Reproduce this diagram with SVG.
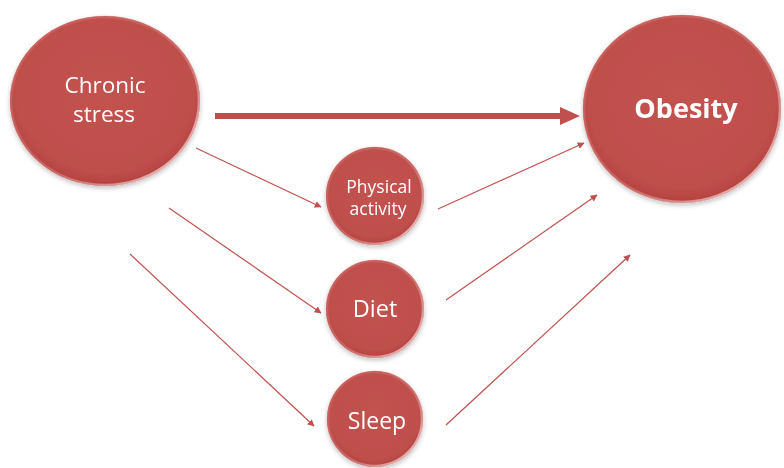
<svg xmlns="http://www.w3.org/2000/svg" width="784" height="468" viewBox="0 0 784 468">
  <style>
    .node { fill: url(#bubble); }
    .rim { fill: none; stroke: url(#rimGrad); stroke-width: 2.5; }
    .label { fill: #ffffff; font-family: "Open Sans", "Noto Sans", "DejaVu Sans", sans-serif; text-anchor: middle; }
    .thin { stroke: #c0504d; stroke-width: 1.2; fill: none; marker-end: url(#headSmall); }
    .thick { stroke: #c0504d; stroke-width: 6; fill: none; }
  </style>
  <defs>
    <radialGradient id="bubble" cx="50%" cy="45%" r="55%">
      <stop offset="0" stop-color="#c2524f"/>
      <stop offset="0.85" stop-color="#bf4f4c"/>
      <stop offset="1" stop-color="#b3413e"/>
    </radialGradient>
    <linearGradient id="rimGrad" x1="0" y1="0" x2="1" y2="1">
      <stop offset="0" stop-color="#c9605d" stop-opacity="0.6"/>
      <stop offset="0.55" stop-color="#d98583" stop-opacity="0.5"/>
      <stop offset="1" stop-color="#f7dede" stop-opacity="1"/>
    </linearGradient>
    <filter id="shadow" x="-10%" y="-10%" width="120%" height="125%">
      <feGaussianBlur in="SourceAlpha" stdDeviation="2.5"/>
      <feOffset dx="0" dy="2" result="b"/>
      <feComponentTransfer><feFuncA type="linear" slope="0.25"/></feComponentTransfer>
      <feMerge><feMergeNode/><feMergeNode in="SourceGraphic"/></feMerge>
    </filter>
    <marker id="headSmall" viewBox="0 0 10 10" refX="9" refY="5" markerWidth="7" markerHeight="7" markerUnits="userSpaceOnUse" orient="auto">
      <path d="M0,0 L10,5 L0,10 z" fill="#c0504d"/>
    </marker>
  </defs>

  <!-- connectors -->
  <g id="connectors">
    <line class="thick" x1="215" y1="116" x2="562" y2="116"/>
    <path d="M560,107 L580,116 L560,125 z" fill="#c0504d"/>
    <line class="thin" x1="196" y1="148" x2="321" y2="207"/>
    <line class="thin" x1="169" y1="208" x2="321" y2="313"/>
    <line class="thin" x1="130" y1="254" x2="314" y2="426"/>
    <line class="thin" x1="438" y1="209" x2="584" y2="143"/>
    <line class="thin" x1="446" y1="300" x2="597" y2="195"/>
    <line class="thin" x1="446" y1="425" x2="630" y2="255"/>
  </g>

  <g id="chronic-stress" filter="url(#shadow)">
    <ellipse class="node" cx="105" cy="101" rx="95" ry="85"/>
    <ellipse class="rim" cx="105" cy="101" rx="94" ry="84"/>
    <text class="label" font-size="22.5" x="105" y="93">Chronic</text>
    <text class="label" font-size="22.5" x="104" y="122">stress</text>
  </g>

  <g id="obesity" filter="url(#shadow)">
    <ellipse class="node" cx="682" cy="109" rx="99" ry="94"/>
    <ellipse class="rim" cx="682" cy="109" rx="98" ry="93"/>
    <text class="label" font-size="27" font-weight="bold" x="686" y="118">Obesity</text>
  </g>

  <g id="physical-activity" filter="url(#shadow)">
    <circle class="node" cx="375" cy="196" r="49"/>
    <circle class="rim" cx="375" cy="196" r="48"/>
    <text class="label" font-size="17.5" x="379" y="193">Physical</text>
    <text class="label" font-size="17.5" x="378" y="215">activity</text>
  </g>

  <g id="diet" filter="url(#shadow)">
    <circle class="node" cx="375" cy="309" r="49"/>
    <circle class="rim" cx="375" cy="309" r="48"/>
    <text class="label" font-size="23.5" x="375" y="317">Diet</text>
  </g>

  <g id="sleep" filter="url(#shadow)">
    <circle class="node" cx="375" cy="419" r="48"/>
    <circle class="rim" cx="375" cy="419" r="47"/>
    <text class="label" font-size="23" x="377" y="429">Sleep</text>
  </g>
</svg>
